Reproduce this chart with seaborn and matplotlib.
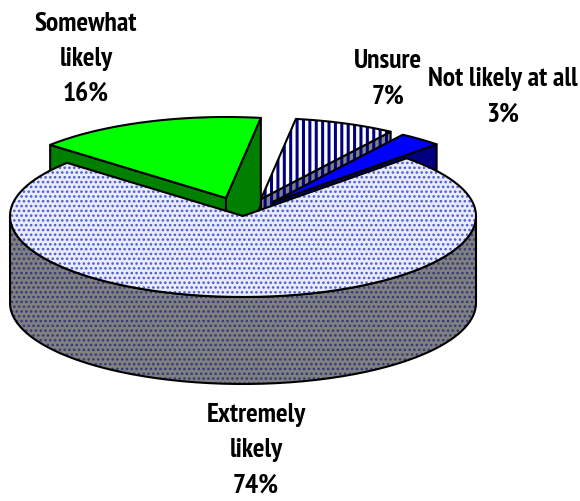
import numpy as np
import matplotlib.pyplot as plt
import seaborn as sns

labels = ['Somewhat\nlikely\n16%', 'Unsure\n7%', 'Not likely at all\n3%', 'Extremely\nlikely\n74%']
shares = [16, 7, 3, 74]

# apex of each slice on the canvas, the pie is pulled apart by hand
apex_x = [226, 261, 273, 243]
apex_y = [199, 200, 203, 217]
label_x = [86, 388, 503, 256]
label_y = [59, 79, 97, 450]

top_colors = ['#00ff00', '#ffffff', '#0000ff', '#e8ebfb']
side_colors = ['#008000', '#808080', '#000080', '#808080']
hatch_colors = [None, '#000080', None, '#4a58d0']
side_hatch_colors = [None, '#000080', None, '#30387a']
hatches = [None, '|||', None, '....']
hatch_widths = [0, 1.9, 0, 1.0]

RX, RY = 233, 81
DEPTH = 87
START = 139
DPI = 115

sns.set_theme(style='white')
plt.rcParams['font.family'] = ['PT Sans Narrow', 'Liberation Sans', 'DejaVu Sans']

fig, ax = plt.subplots(figsize=(580 / DPI, 502 / DPI), dpi=DPI)
ax.set_position([0, 0, 1, 1])
ax.set_xlim(0, 580)
ax.set_ylim(502, 0)
ax.axis('off')

layer = [1]


def shape(xs, ys, face, hatch_color, hatch, hatch_width):
    layer[0] += 1
    if hatch:
        plt.rcParams['hatch.linewidth'] = hatch_width
        patch = ax.fill(xs, ys, facecolor=face, edgecolor=hatch_color, hatch=hatch, linewidth=0, zorder=layer[0])[0]
        if hasattr(patch, 'set_hatch_linewidth'):
            patch.set_hatch_linewidth(hatch_width)
    else:
        ax.fill(xs, ys, facecolor=face, linewidth=0, zorder=layer[0])
    ax.plot(list(xs) + [xs[0]], list(ys) + [ys[0]], color='black', lw=1.3, solid_joinstyle='round', zorder=layer[0])


hi = START
for i, share in enumerate(shares):
    lo = hi - share * 3.6
    cx, cy = apex_x[i], apex_y[i]
    theta = np.radians(np.linspace(hi, lo, 240))
    rim_x = cx + RX * np.cos(theta)
    rim_y = cy - RY * np.sin(theta)

    # cut faces that look at the viewer
    for ang, rx, ry, visible in [(hi, rim_x[0], rim_y[0], np.cos(np.radians(hi)) < 0),
                                 (lo, rim_x[-1], rim_y[-1], np.cos(np.radians(lo)) > 0)]:
        if visible:
            shape([cx, rx, rx, cx], [cy, ry, ry + DEPTH, cy + DEPTH], side_colors[i],
                  side_hatch_colors[i], hatches[i], hatch_widths[i])

    # outer wall, front half only
    front = np.sin(theta) < 0
    if front.any():
        wx, wy = rim_x[front], rim_y[front]
        shape(list(wx) + list(wx[::-1]), list(wy) + list(wy[::-1] + DEPTH), side_colors[i],
              side_hatch_colors[i], hatches[i], hatch_widths[i])

    shape([cx] + list(rim_x), [cy] + list(rim_y), top_colors[i], hatch_colors[i], hatches[i], hatch_widths[i])
    hi = lo

for i, label in enumerate(labels):
    ax.text(label_x[i], label_y[i], label, ha='center', va='center', fontsize=17.2,
            fontweight='bold', color='black', linespacing=1.6, zorder=500)

sns.despine(ax=ax, left=True, bottom=True)
fig.savefig('out.png', dpi=DPI)
